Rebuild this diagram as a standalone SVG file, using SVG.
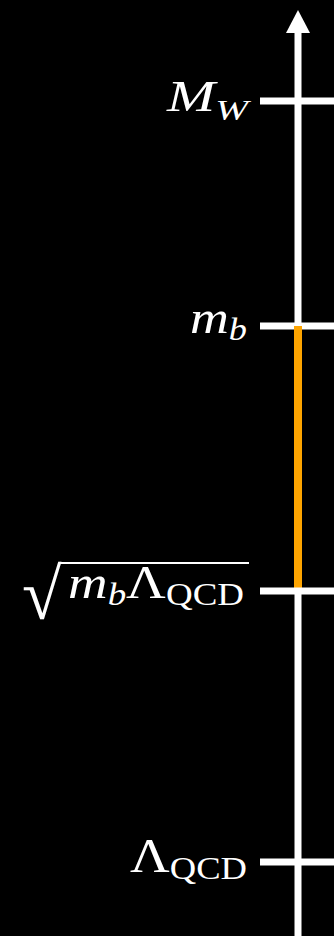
<svg xmlns="http://www.w3.org/2000/svg" width="334" height="936" viewBox="0 0 334 936">
<style>
.lbl{font-family:"Liberation Serif","DejaVu Serif",serif;fill:#ffffff;}
.it{font-style:italic;}
.tick{stroke:#ffffff;stroke-width:7;}
</style>
<rect x="0" y="0" width="334" height="936" fill="#000000"/>
<g id="connectors">
<line x1="298" y1="936" x2="298" y2="30" stroke="#ffffff" stroke-width="7"/>
<polygon points="286,33 310,33 298,10" fill="#ffffff"/>
<line x1="298" y1="326" x2="298" y2="590" stroke="#FFA500" stroke-width="8"/>
</g>
<g id="node-MW">
<line class="tick" x1="260" y1="101" x2="334" y2="101"/>
<text class="lbl" x="248" y="111" text-anchor="end" textLength="81" lengthAdjust="spacingAndGlyphs"><tspan class="it" font-size="44">M</tspan><tspan class="it" font-size="30" dy="9">W</tspan></text>
</g>
<g id="node-mb">
<line class="tick" x1="260" y1="326" x2="334" y2="326"/>
<line x1="298" y1="326" x2="298" y2="330" stroke="#FFA500" stroke-width="8"/>
<text class="lbl" x="247" y="333" text-anchor="end" textLength="57" lengthAdjust="spacingAndGlyphs"><tspan class="it" font-size="46">m</tspan><tspan class="it" font-size="31" dy="7">b</tspan></text>
</g>
<g id="node-sqrt">
<line class="tick" x1="260" y1="591" x2="334" y2="591"/>
<text class="lbl" x="22" y="619" font-size="72">√</text>
<line x1="59" y1="563" x2="249" y2="563" stroke="#ffffff" stroke-width="2"/>
<text class="lbl" x="244" y="598" text-anchor="end" textLength="176" lengthAdjust="spacingAndGlyphs"><tspan class="it" font-size="46">m</tspan><tspan class="it" font-size="31" dy="7">b</tspan><tspan font-size="46" dy="-7">Λ</tspan><tspan font-size="31" dy="7">QCD</tspan></text>
</g>
<g id="node-LQCD">
<line class="tick" x1="260" y1="862" x2="334" y2="862"/>
<text class="lbl" x="247" y="872" text-anchor="end" textLength="117" lengthAdjust="spacingAndGlyphs"><tspan font-size="48">Λ</tspan><tspan font-size="32" dy="7">QCD</tspan></text>
</g>
</svg>
